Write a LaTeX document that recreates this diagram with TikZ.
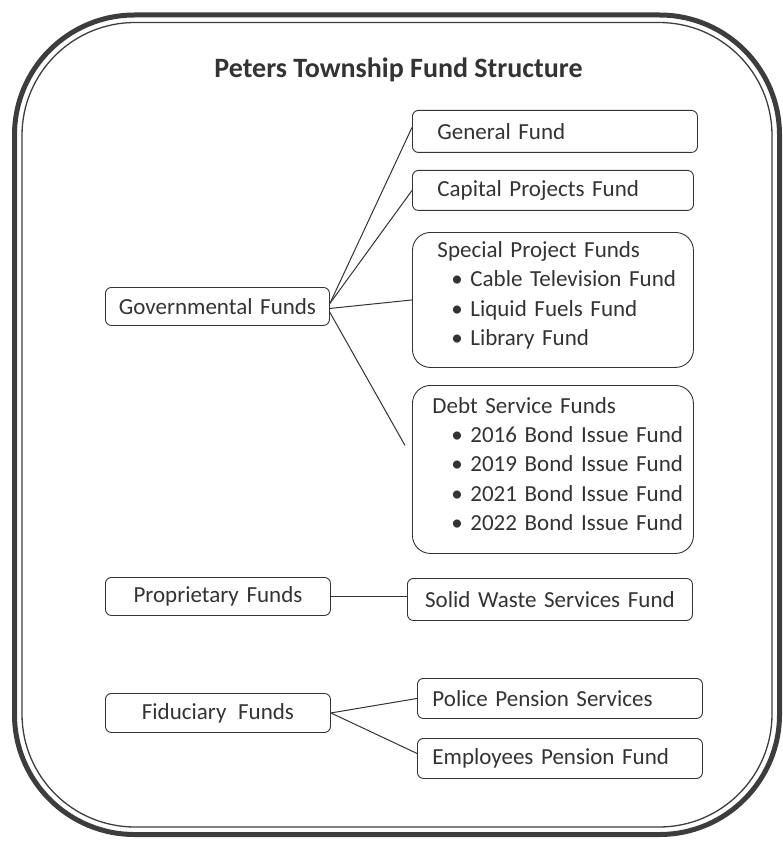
\documentclass[tikz,border=0pt]{standalone}
\usepackage{fontspec}
\setmainfont{Carlito}
\usetikzlibrary{calc}

\definecolor{ink}{HTML}{333333}
\definecolor{framegray}{HTML}{3D3D3D}

% left padding inside a box, bullet line, and extra depth for the last line
\newcommand{\fundpad}[1]{\hspace*{#1pt}}
\newcommand{\fundbullet}[1]{\hspace*{39pt}\textbullet\hspace{7.5pt}#1}
\newcommand{\lowstrut}[1]{\rule[-#1]{0pt}{#1}}

\tikzset{
  fundbox/.style={draw=ink, line width=0.9pt, rounded corners=6pt,
    anchor=north west, inner xsep=0pt, inner ysep=0pt, text=ink,
    font=\fontsize{23}{29.3}\selectfont, align=left},
  groupbox/.style={fundbox, rounded corners=18pt},
  centerbox/.style={fundbox, align=center},
  link/.style={draw=ink, line width=1pt},
  frameline/.style={draw=framegray},
  heading/.style={text=ink, font=\fontsize{28}{34}\selectfont\bfseries, anchor=base},
}

\begin{document}
\begin{tikzpicture}[x=1pt, y=-1pt]
\useasboundingbox (0,0) rectangle (783,842);

% double rounded frame
\draw[frameline, line width=5pt, rounded corners=120pt] (14.5,15) rectangle (779.5,834.5);
\draw[frameline, line width=1.3pt, rounded corners=113pt] (22,22.5) rectangle (772,827);

% heading
\node[heading] (title) at (398.5,78) {Peters Township Fund Structure};

% governmental funds
\node[centerbox, text width=224pt, minimum height=38pt] (gov) at (105,287) {Governmental Funds};
\node[fundbox, text width=285pt, minimum height=42pt] (gen) at (412,110) {\fundpad{25}General Fund};
\node[fundbox, text width=281pt, minimum height=40pt] (cap) at (412,170) {\fundpad{25}Capital Projects Fund};
\node[groupbox, text width=281pt, minimum height=135pt] (spec) at (412,232)
  {\fundpad{25}Special Project Funds\\
   \fundbullet{Cable Television Fund}\\
   \fundbullet{Liquid Fuels Fund}\\
   \fundbullet{Library Fund}\lowstrut{13pt}};
\node[groupbox, text width=281pt, minimum height=168pt] (debt) at (412,385)
  {\fundpad{20}Debt Service Funds\\
   \fundbullet{2016 Bond Issue Fund}\\
   \fundbullet{2019 Bond Issue Fund}\\
   \fundbullet{2021 Bond Issue Fund}\\
   \fundbullet{2022 Bond Issue Fund}\lowstrut{11pt}};

% proprietary funds
\node[centerbox, text width=225pt, minimum height=38pt] (prop) at (105,577) {Proprietary Funds};
\node[centerbox, text width=285pt, minimum height=42pt] (solid) at (407,578) {Solid Waste Services Fund};

% fiduciary funds
\node[centerbox, text width=225pt, minimum height=39pt] (fid) at (105,693) {Fiduciary\hspace{4pt} Funds};
\node[fundbox, text width=285pt, minimum height=40pt] (police) at (417,678) {\fundpad{15}Police Pension Services};
\node[fundbox, text width=285pt, minimum height=40pt] (emp) at (417,738) {\fundpad{15}Employees Pension Fund};

% connectors
\draw[link] ([yshift=3pt]gov.east) -- ([yshift=4pt]gen.west);
\draw[link] ([yshift=3pt]gov.east) -- (cap.west);
\draw[link] ([yshift=-2pt]gov.east) -- (spec.west);
\coordinate (debtend) at ([xshift=-7pt, yshift=24pt]debt.west);
\draw[link] ([yshift=-6pt]gov.east) -- (debtend);
\draw[link] (prop.east) -- (prop.east -| solid.west);
\draw[link] (fid.east) -- (police.west);
\draw[link] (fid.east) -- ([yshift=5pt]emp.west);
\end{tikzpicture}
\end{document}
